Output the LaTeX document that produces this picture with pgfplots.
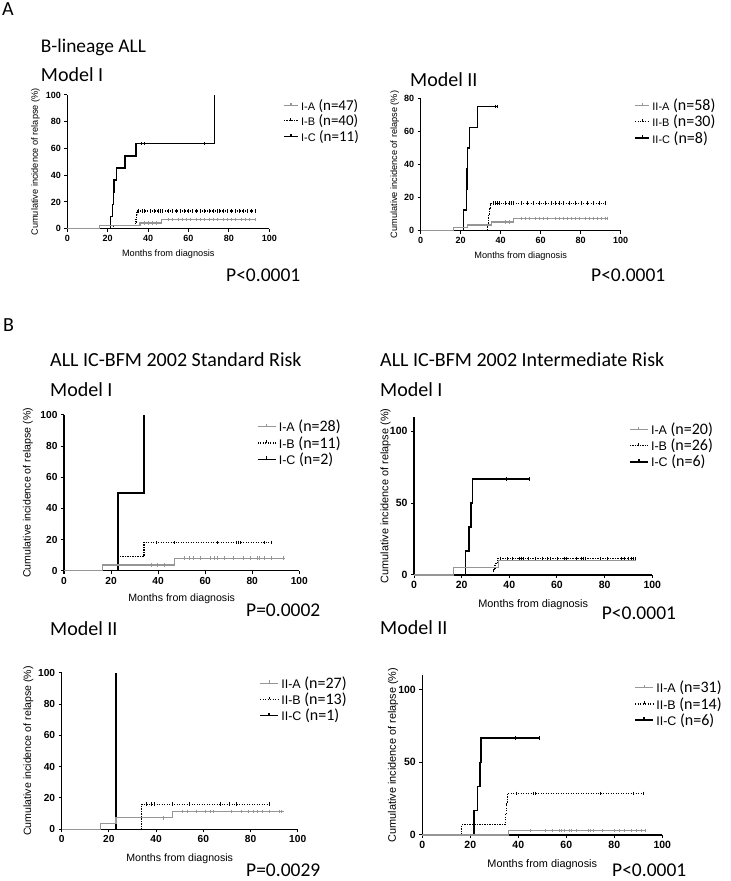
\documentclass[border=0pt]{standalone}
\usepackage{pgfplots}
\pgfplotsset{compat=1.18}
\usepackage{fontspec}
\setmainfont{Carlito}
\newfontfamily\arial{Liberation Sans}
\definecolor{kmgray}{RGB}{150,150,150}
\pgfplotsset{
 km/.style={
  scale only axis,
  axis lines=left,
  axis line style={-, line width=1.1pt},
  tick align=outside,
  major tick length=3pt,
  every tick/.style={black, line width=1pt},
  xmin=0,xmax=100,ymin=0,
  xtick={0,20,...,100},
  clip=false,
  /pgf/number format/assume math mode=true,
  tick label style={font=\arial\bfseries\fontsize{9}{10}\selectfont},
  label style={font=\arial\fontsize{9.2}{10}\selectfont},
  xlabel={Months from diagnosis},
  ylabel={Cumulative incidence of relapse (\%)},
  reverse legend,
  legend cell align=left,
  legend style={draw=none, fill=none, anchor=west, inner sep=0pt, row sep=-1pt, nodes={inner xsep=2.5pt}},
  legend image code/.code={\draw[##1] (0pt,0pt) -- (14pt,0pt); \draw[##1,solid] (7pt,0pt) -- (7pt,2.5pt);},
 },
 legB/.style={legend image code/.code={\draw[##1] (0pt,0pt) -- (18pt,0pt); \draw[##1,solid] (9pt,0pt) -- (9pt,2.8pt);}},
 sC/.style={black, line width=1.4pt, const plot},
 sB/.style={black, line width=1.1pt, dash pattern=on 1.2pt off 1.3pt, const plot},
 sA/.style={kmgray, line width=1.2pt, const plot},
 cens/.style={only marks, mark=|, mark size=1.8pt, forget plot},
}
\newcommand{\lgd}[2]{{\arial\fontsize{11}{12}\selectfont #1} #2}
\newcommand{\lgdB}[2]{{\arial\fontsize{12.5}{13}\selectfont #1} #2}
\begin{document}
\begin{tikzpicture}[x=1pt,y=1pt]
\useasboundingbox (0,0) rectangle (731,881);
% ---------- titles ----------
\node[anchor=base west, font=\fontsize{20}{21}\selectfont, inner sep=0] at (2,865) {A};
\node[anchor=base west, font=\fontsize{19.4}{20}\selectfont, inner sep=0] at (40.7,828.3) {B-lineage ALL};
\node[anchor=base west, font=\fontsize{20}{21}\selectfont, inner sep=0] at (40.7,799.3) {Model I};
\node[anchor=base west, font=\fontsize{20}{21}\selectfont, inner sep=0] at (410,794.3) {Model II};
\node[anchor=base west, font=\fontsize{19.5}{20}\selectfont, inner sep=0] at (226,599.3) {P<0.0001};
\node[anchor=base west, font=\fontsize{19.5}{20}\selectfont, inner sep=0] at (591,599.3) {P<0.0001};
\node[anchor=base west, font=\fontsize{20}{21}\selectfont, inner sep=0] at (3,549.3) {B};
\node[anchor=base west, font=\fontsize{20}{21}\selectfont, inner sep=0] at (50,514.3) {ALL IC-BFM 2002 Standard Risk};
\node[anchor=base west, font=\fontsize{20}{21}\selectfont, inner sep=0] at (50,484.3) {Model I};
\node[anchor=base west, font=\fontsize{20}{21}\selectfont, inner sep=0] at (380,514.3) {ALL IC-BFM 2002 Intermediate Risk};
\node[anchor=base west, font=\fontsize{20}{21}\selectfont, inner sep=0] at (380,484.3) {Model I};
\node[anchor=base west, font=\fontsize{19.5}{20}\selectfont, inner sep=0] at (246,264.3) {P=0.0002};
\node[anchor=base west, font=\fontsize{19.5}{20}\selectfont, inner sep=0] at (601.7,261) {P<0.0001};
\node[anchor=base west, font=\fontsize{20}{21}\selectfont, inner sep=0] at (50,245) {Model II};
\node[anchor=base west, font=\fontsize{20}{21}\selectfont, inner sep=0] at (380,246) {Model II};
\node[anchor=base west, font=\fontsize{19.5}{20}\selectfont, inner sep=0] at (246,4.5) {P=0.0029};
\node[anchor=base west, font=\fontsize{19.5}{20}\selectfont, inner sep=0] at (612,4.5) {P<0.0001};

% ---------- A1 ----------
\begin{axis}[km, at={(67.3pt,652.3pt)}, anchor=south west, width=202pt, height=133.7pt,
  ymax=100, ytick={0,20,...,100},
  ylabel style={at={(axis description cs:-0.158,0.5)}, anchor=center},
  xlabel style={at={(axis description cs:0.5,0)}, anchor=center, yshift=-25.3pt},
  legend style={at={(axis description cs:1.068,0.806)}, font=\fontsize{15}{16}\selectfont}]
\addplot[sC] coordinates {(0,0) (21.5,9.1) (22.5,18.2) (22.8,27.3) (23.2,36.4) (24.3,45.5) (28.5,54.5) (34,63.6) (73,100)};
\addlegendentry{\lgd{I-C}{(n=11)}}
\addplot[sB] coordinates {(0,0) (22.7,2.5) (33.8,5) (34,7.5) (34.2,10.3) (34.5,13.2) (93.5,13.2)};
\addlegendentry{\lgd{I-B}{(n=40)}}
\addplot[sA] coordinates {(0,0) (16,2.1) (36,4.3) (46.5,6.8) (93.5,6.8)};
\addlegendentry{\lgd{I-A}{(n=47)}}
\addplot[cens, black] coordinates {(36.5,63.6) (38,63.6) (68,63.6)};
\addplot[cens, black] coordinates {(35,13.2) (37,13.2) (38,13.2) (41,13.2) (43,13.2) (45,13.2) (46,13.2) (47,13.2) (50,13.2) (52,13.2) (54,13.2) (56,13.2) (58,13.2) (60,13.2) (62,13.2) (64,13.2) (66,13.2) (68,13.2) (70,13.2) (72,13.2) (74,13.2) (75,13.2) (77,13.2) (79,13.2) (81,13.2) (83,13.2) (85,13.2) (87,13.2) (89,13.2) (91,13.2) (93,13.2)};
\addplot[cens, kmgray] coordinates {(38,4.3) (40,4.3) (42,4.3) (44,4.3) (50,6.8) (52,6.8) (55,6.8) (57,6.8) (59,6.8) (61,6.8) (64,6.8) (66,6.8) (68,6.8) (70,6.8) (72,6.8) (74,6.8) (77,6.8) (79,6.8) (81,6.8) (83,6.8) (86,6.8) (88,6.8) (90,6.8) (93,6.8)};
\end{axis}

% ---------- A2 ----------
\begin{axis}[km, at={(420.7pt,650.3pt)}, anchor=south west, width=200pt, height=132.4pt,
  ymax=80, ytick={0,20,...,80},
  ylabel style={at={(axis description cs:-0.13,0.5)}, anchor=center},
  xlabel style={at={(axis description cs:0.5,0)}, anchor=center, yshift=-25.3pt},
  legend style={at={(axis description cs:1.068,0.823)}, font=\fontsize{16}{17}\selectfont}]
\addplot[sC] coordinates {(0,0) (21.5,12.5) (22.8,25) (23.2,37.5) (23.5,50) (24.3,62.5) (28.5,75) (38,75)};
\addlegendentry{\lgd{II-C}{(n=8)}}
\addplot[sB] coordinates {(0,0) (33.5,3.3) (34,10) (34.5,13.3) (35,16.7) (92,16.7)};
\addlegendentry{\lgd{II-B}{(n=30)}}
\addplot[sA] coordinates {(0,0) (16.5,1.7) (23.5,3.5) (35.5,5.3) (46.5,7.3) (93.5,7.3)};
\addlegendentry{\lgd{II-A}{(n=58)}}
\addplot[cens, black] coordinates {(37,75) (38,75)};
\addplot[cens, black] coordinates {(36,16.7) (37,16.7) (38,16.7) (39,16.7) (42,16.7) (44,16.7) (45,16.7) (46,16.7) (50,16.7) (53,16.7) (56,16.7) (59,16.7) (62,16.7) (65,16.7) (67,16.7) (69,16.7) (71,16.7) (74,16.7) (77,16.7) (80,16.7) (83,16.7) (86,16.7) (89,16.7) (92,16.7)};
\addplot[cens, kmgray] coordinates {(42,5.3) (44,5.3) (50,7.3) (52,7.3) (54,7.3) (57,7.3) (59,7.3) (61,7.3) (63,7.3) (67,7.3) (69,7.3) (71,7.3) (73,7.3) (75,7.3) (77,7.3) (79,7.3) (82,7.3) (84,7.3) (86,7.3) (88,7.3) (90,7.3) (92,7.3) (93,7.3)};
\end{axis}

% ---------- B1 ----------
\begin{axis}[km, legB, at={(64pt,310.3pt)}, anchor=south west, width=235.3pt, height=155.7pt,
  ymax=100, ytick={0,20,...,100},
  tick label style={font=\arial\bfseries\fontsize{10.2}{11}\selectfont},
  label style={font=\arial\fontsize{10.6}{11}\selectfont},
  ylabel style={at={(axis description cs:-0.153,0.5)}, anchor=center},
  xlabel style={at={(axis description cs:0.5,0)}, anchor=center, yshift=-28.3pt},
  legend style={at={(axis description cs:0.819,0.82)}, font=\fontsize{16}{17}\selectfont}]
\addplot[sC] coordinates {(0,0) (23,50) (34,100)};
\addlegendentry{\lgdB{I-C}{(n=2)}}
\addplot[sB] coordinates {(0,0) (23,9.1) (34,18.2) (88,18.2)};
\addlegendentry{\lgdB{I-B}{(n=11)}}
\addplot[sA] coordinates {(0,0) (16.5,3.6) (47,8) (94,8)};
\addlegendentry{\lgdB{I-A}{(n=28)}}
\addplot[cens, black] coordinates {(39,18.2) (47,18.2) (65,18.2) (73,18.2) (74,18.2) (75,18.2) (85,18.2) (88,18.2)};
\addplot[cens, kmgray] coordinates {(37,3.6) (39.5,3.6) (42.5,3.6) (51,8) (53,8) (55,8) (58,8) (62,8) (64,8) (65,8) (68,8) (72,8) (76,8) (79,8) (82,8) (83,8) (85,8) (88,8) (93,8)};
\end{axis}

% ---------- B2 ----------
\begin{axis}[km, legB, at={(414pt,306pt)}, anchor=south west, width=238.3pt, height=158.3pt,
  ymax=110, ytick={0,50,100},
  tick label style={font=\arial\bfseries\fontsize{10.5}{11}\selectfont},
  label style={font=\arial\fontsize{10.9}{11}\selectfont},
  ylabel style={at={(axis description cs:-0.119,0.5)}, anchor=center},
  xlabel style={at={(axis description cs:0.5,0)}, anchor=center, yshift=-30pt},
  legend style={at={(axis description cs:0.902,0.817)}, font=\fontsize{16}{17}\selectfont}]
\addplot[sC] coordinates {(0,0) (21.5,16.7) (23,33.3) (24,50) (24.5,66.7) (48.5,66.7)};
\addlegendentry{\lgdB{I-C}{(n=6)}}
\addplot[sB] coordinates {(0,0) (33.5,3.8) (34,7.7) (35,11.5) (93,11.5)};
\addlegendentry{\lgdB{I-B}{(n=26)}}
\addplot[sA] coordinates {(0,0) (16.5,5) (35.5,10) (93,10)};
\addlegendentry{\lgdB{I-A}{(n=20)}}
\addplot[cens, black] coordinates {(38.5,66.7) (48.5,66.7)};
\addplot[cens, black] coordinates {(36,11.5) (39,11.5) (41,11.5) (44,11.5) (45,11.5) (46,11.5) (48,11.5) (51,11.5) (54,11.5) (56,11.5) (57,11.5) (60,11.5) (63,11.5) (64,11.5) (68,11.5) (70,11.5) (71,11.5) (72,11.5) (78,11.5) (81,11.5) (87,11.5) (88,11.5) (90,11.5) (91,11.5) (92,11.5) (93,11.5)};
\end{axis}

% ---------- B3 ----------
\begin{axis}[km, legB, at={(61.7pt,51.7pt)}, anchor=south west, width=236pt, height=156.6pt,
  ymax=100, ytick={0,20,...,100},
  tick label style={font=\arial\bfseries\fontsize{10.2}{11}\selectfont},
  label style={font=\arial\fontsize{10.6}{11}\selectfont},
  ylabel style={at={(axis description cs:-0.141,0.5)}, anchor=center},
  xlabel style={at={(axis description cs:0.5,0)}, anchor=center, yshift=-29.7pt},
  legend style={at={(axis description cs:0.837,0.83)}, font=\fontsize{16}{17}\selectfont}]
\addplot[sC] coordinates {(0,0) (23,100)};
\addlegendentry{\lgdB{II-C}{(n=1)}}
\addplot[sB] coordinates {(0,0) (34,16) (88,16)};
\addlegendentry{\lgdB{II-B}{(n=13)}}
\addplot[sA] coordinates {(0,0) (16.5,3.7) (23,7.4) (47,11.4) (94,11.4)};
\addlegendentry{\lgdB{II-A}{(n=27)}}
\addplot[cens, black] coordinates {(36,16) (38,16) (39,16) (47,16) (54,16) (67,16) (71,16) (74,16) (88,16)};
\addplot[cens, kmgray] coordinates {(43,7.4) (51,11.4) (53,11.4) (57,11.4) (61,11.4) (63,11.4) (64,11.4) (72,11.4) (76,11.4) (79,11.4) (81,11.4) (83,11.4) (85,11.4) (88,11.4) (92,11.4) (93,11.4)};
\end{axis}

% ---------- B4 ----------
\begin{axis}[km, legB, at={(422.3pt,46pt)}, anchor=south west, width=240pt, height=160pt,
  ymax=110, ytick={0,50,100},
  tick label style={font=\arial\bfseries\fontsize{10.5}{11}\selectfont},
  label style={font=\arial\fontsize{10.9}{11}\selectfont},
  ylabel style={at={(axis description cs:-0.122,0.5)}, anchor=center},
  xlabel style={at={(axis description cs:0.5,0)}, anchor=center, yshift=-30pt},
  legend style={at={(axis description cs:0.883,0.819)}, font=\fontsize{16}{17}\selectfont}]
\addplot[sC] coordinates {(0,0) (21.5,16.7) (23,33.3) (24,50) (24.5,66.7) (48.5,66.7)};
\addlegendentry{\lgdB{II-C}{(n=6)}}
\addplot[sB] coordinates {(0,0) (16.5,7.1) (34.5,14.3) (35,21.4) (35.5,28.6) (92,28.6)};
\addlegendentry{\lgdB{II-B}{(n=14)}}
\addplot[sA] coordinates {(0,0) (36,3.2) (93,3.2)};
\addlegendentry{\lgdB{II-A}{(n=31)}}
\addplot[cens, black] coordinates {(38.5,66.7) (48.5,66.7)};
\addplot[cens, black] coordinates {(39,28.6) (46,28.6) (47,28.6) (74,28.6) (88,28.6) (92,28.6)};
\addplot[cens, kmgray] coordinates {(45,3.2) (51,3.2) (54,3.2) (57,3.2) (58,3.2) (59,3.2) (61,3.2) (62,3.2) (64,3.2) (69,3.2) (70,3.2) (71,3.2) (75,3.2) (80,3.2) (82,3.2) (84,3.2) (87,3.2) (89,3.2) (91,3.2) (93,3.2)};
\end{axis}
\end{tikzpicture}
\end{document}
